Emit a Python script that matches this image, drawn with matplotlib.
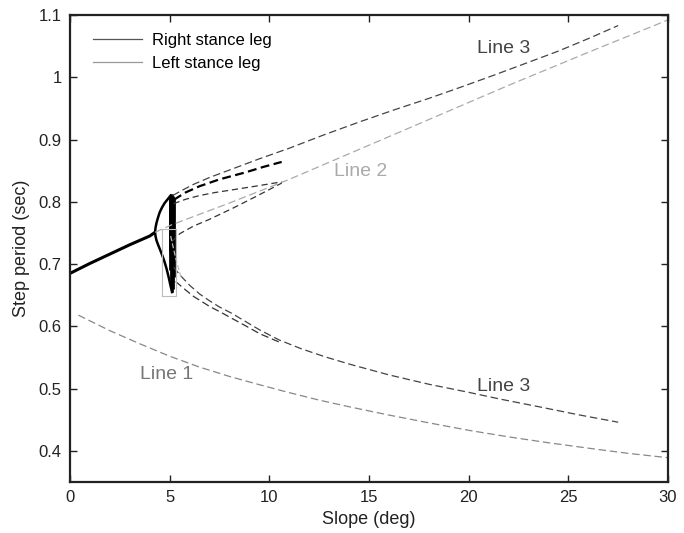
import matplotlib
matplotlib.use('Agg')
import matplotlib.pyplot as plt
from matplotlib.lines import Line2D

plt.rcParams['font.family'] = ['Liberation Sans', 'DejaVu Sans']

# Period-1 gait (solid, thick)
p1_x = [0, 1, 2, 3, 4, 4.27]
p1_y = [0.685, 0.701, 0.716, 0.731, 0.745, 0.751]

# Period-2 arc (solid), top to bottom
arc_x = [5.05, 4.90, 4.75, 4.62, 4.50, 4.41, 4.34, 4.29, 4.27, 4.29, 4.34, 4.42,
         4.52, 4.63, 4.74, 4.85, 4.95, 5.04, 5.12]
arc_y = [0.810, 0.804, 0.798, 0.791, 0.783, 0.774, 0.766, 0.758, 0.751, 0.745, 0.738, 0.731,
         0.723, 0.714, 0.704, 0.692, 0.679, 0.666, 0.655]

# Chaotic band (vertical solid strokes)
band_x = [5.00, 5.04, 5.08, 5.12, 5.16, 5.20]
band_lo = [0.72, 0.69, 0.665, 0.655, 0.66, 0.68]
band_hi = [0.805, 0.81, 0.812, 0.812, 0.81, 0.805]

# Line 1
l1_x = [0.42, 2, 3.5, 5, 6.5, 8, 9.53, 11, 12.5, 14.05, 16, 18, 20, 22, 24, 26.43, 28, 30]
l1_y = [0.618, 0.593, 0.572, 0.552, 0.5345, 0.5195, 0.506, 0.4935, 0.4815, 0.4705,
        0.4575, 0.445, 0.433, 0.4225, 0.413, 0.4025, 0.396, 0.389]

# Line 2
l2_x = [4.27, 5.1, 8, 11, 14.5, 18, 22, 26, 30]
l2_y = [0.751, 0.763, 0.798, 0.836, 0.884, 0.932, 0.987, 1.040, 1.092]

# Line 3 (upper)
l3u_x = [5.15, 5.6, 6.2, 7, 8, 9.5, 11, 12.7, 14.5, 16.3, 18, 19.6, 21.24, 23, 24.5, 26, 27.5]
l3u_y = [0.810, 0.818, 0.828, 0.839, 0.851, 0.869, 0.886, 0.907, 0.928, 0.948,
         0.966, 0.984, 1.003, 1.024, 1.042, 1.062, 1.083]

# Line 3 (lower)
l3l_x = [5.2, 5.5, 6, 6.5, 7, 7.5, 8.11, 9, 9.53, 10.5, 11.6, 12.8, 14.05, 16, 18, 20,
         21.6, 23.5, 25.5, 27.5]
l3l_y = [0.695, 0.683, 0.666, 0.652, 0.641, 0.631, 0.621, 0.604, 0.594, 0.578, 0.564,
         0.551, 0.539, 0.522, 0.507, 0.494, 0.483, 0.471, 0.458, 0.446]

# short branches around the chaotic region
b_x = [5.2, 5.8, 6.5, 7.5, 8.78, 9.7, 10.62]
b_y = [0.803, 0.815, 0.825, 0.836, 0.847, 0.856, 0.864]
c_x = [5.2, 5.8, 6.5, 7.3, 8.11, 9.3, 10.62]
c_y = [0.797, 0.804, 0.810, 0.815, 0.819, 0.825, 0.832]
d_x = [5.1, 5.52, 6.2, 6.94, 7.6, 8.19, 9.3, 10.62]
d_y = [0.736, 0.749, 0.761, 0.771, 0.781, 0.790, 0.808, 0.830]
f_x = [5.3, 5.7, 6.2, 7, 7.6, 8.11, 8.8, 9.53, 10.62]
f_y = [0.672, 0.661, 0.648, 0.632, 0.622, 0.613, 0.601, 0.588, 0.573]
g_x = [5.05, 5.3, 5.6]
g_y = [0.745, 0.71, 0.675]

fig = plt.figure(figsize=(6.84, 5.33), dpi=100)
ax = fig.add_axes([0.1023, 0.0957, 0.8743, 0.8762])

ax.plot(p1_x, p1_y, color='black', lw=2.2, solid_capstyle='butt')
ax.plot(arc_x, arc_y, color='black', lw=1.8)
ax.vlines(band_x, band_lo, band_hi, color='black', lw=2.0)

ax.plot(l1_x, l1_y, color='#888888', lw=0.9, dashes=(6, 3))
ax.plot(l2_x, l2_y, color='#aaaaaa', lw=0.9, dashes=(6, 3))
ax.plot(l3u_x, l3u_y, color='#444444', lw=0.9, dashes=(6, 3))
ax.plot(l3l_x, l3l_y, color='#444444', lw=0.9, dashes=(6, 3))
ax.plot(b_x, b_y, color='black', lw=1.6, dashes=(4, 2))
ax.plot(c_x, c_y, color='#333333', lw=0.9, dashes=(5, 3))
ax.plot(d_x, d_y, color='#333333', lw=0.9, dashes=(5, 3))
ax.plot(f_x, f_y, color='#333333', lw=0.9, dashes=(6, 3))
ax.plot(g_x, g_y, color='#bbbbbb', lw=0.9, dashes=(4, 2))

# gray box around chaotic region
ax.plot([4.63, 5.32, 5.32, 4.63, 4.63], [0.649, 0.649, 0.757, 0.757, 0.649],
        color='#bbbbbb', lw=0.8)

ax.text(4.87, 0.523, 'Line 1', color='#777777', fontsize=14, ha='center', va='center')
ax.text(14.6, 0.848, 'Line 2', color='#aaaaaa', fontsize=14, ha='center', va='center')
ax.text(21.73, 1.046, 'Line 3', color='#444444', fontsize=14, ha='center', va='center')
ax.text(21.73, 0.503, 'Line 3', color='#444444', fontsize=14, ha='center', va='center')

handles = [Line2D([], [], color='#555555', lw=0.9),
           Line2D([], [], color='#999999', lw=0.9)]
ax.legend(handles, ['Right stance leg', 'Left stance leg'], loc='upper left',
          frameon=False, fontsize=12, handlelength=2.9, handletextpad=0.6,
          labelspacing=0.45, borderaxespad=0.0, bbox_to_anchor=(0.028, 0.975))

ax.set_xlim(0, 30)
ax.set_ylim(0.35, 1.1)
ax.set_xticks([0, 5, 10, 15, 20, 25, 30])
ax.set_yticks([0.4, 0.5, 0.6, 0.7, 0.8, 0.9, 1.0, 1.1])
ax.set_yticklabels(['0.4', '0.5', '0.6', '0.7', '0.8', '0.9', '1', '1.1'])
ax.tick_params(direction='in', top=True, right=True, length=5, width=1,
               labelsize=12, colors='#222222', pad=6)
for s in ax.spines.values():
    s.set_linewidth(1.6)
    s.set_color('#222222')
ax.set_xlabel('Slope (deg)', fontsize=13, color='#222222', labelpad=4)
ax.set_ylabel('Step period (sec)', fontsize=13, color='#222222', labelpad=6)

fig.savefig('out.png', dpi=100)
